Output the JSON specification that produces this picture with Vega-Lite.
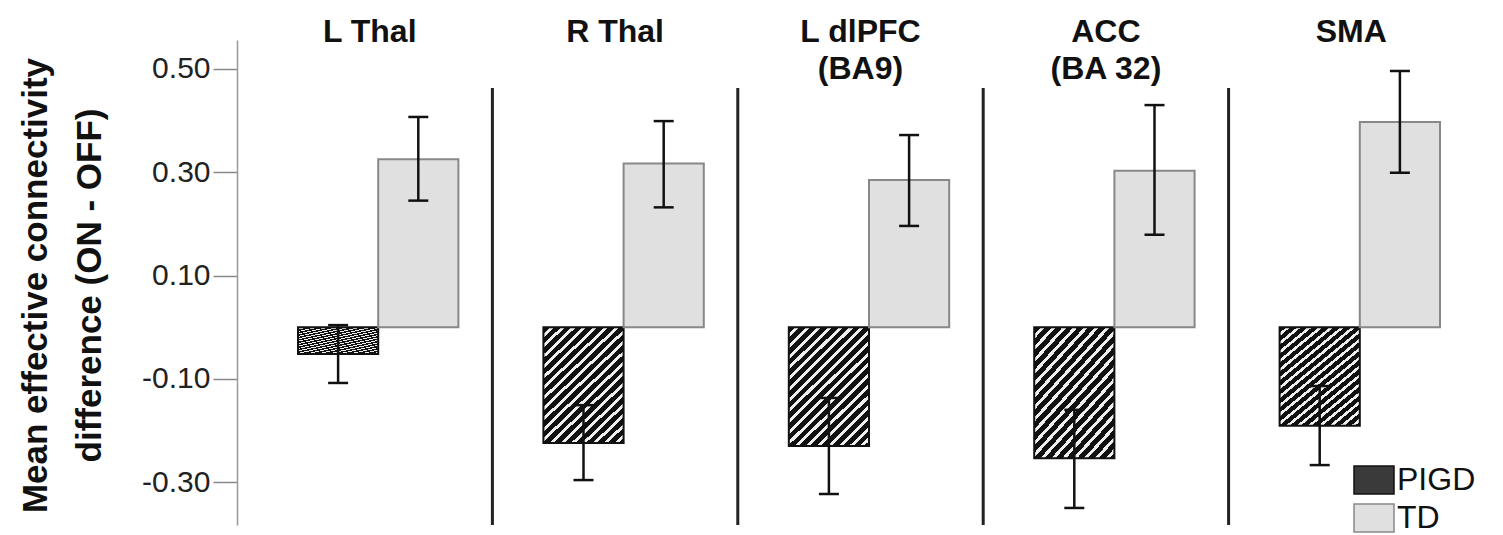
{
  "$schema": "https://vega.github.io/schema/vega-lite/v6.json",
  "autosize": "none",
  "padding": {"left": 237, "top": 40, "right": 55, "bottom": 10},
  "width": 1211,
  "height": 485,
  "background": "white",
  "config": {"view": {"stroke": null}},
  "data": {"values": [
    {"region": "L Thal", "group": "PIGD", "mean": -0.052, "lo": -0.108, "hi": 0.004},
    {"region": "L Thal", "group": "TD", "mean": 0.325, "lo": 0.245, "hi": 0.407},
    {"region": "R Thal", "group": "PIGD", "mean": -0.224, "lo": -0.296, "hi": -0.151},
    {"region": "R Thal", "group": "TD", "mean": 0.317, "lo": 0.232, "hi": 0.399},
    {"region": "L dlPFC (BA9)", "group": "PIGD", "mean": -0.230, "lo": -0.323, "hi": -0.137},
    {"region": "L dlPFC (BA9)", "group": "TD", "mean": 0.285, "lo": 0.196, "hi": 0.372},
    {"region": "ACC (BA 32)", "group": "PIGD", "mean": -0.254, "lo": -0.350, "hi": -0.160},
    {"region": "ACC (BA 32)", "group": "TD", "mean": 0.303, "lo": 0.179, "hi": 0.430},
    {"region": "SMA", "group": "PIGD", "mean": -0.191, "lo": -0.267, "hi": -0.114},
    {"region": "SMA", "group": "TD", "mean": 0.397, "lo": 0.299, "hi": 0.496}
  ]},
  "encoding": {
    "x": {
      "field": "region", "type": "nominal",
      "scale": {"domain": ["L Thal", "R Thal", "L dlPFC (BA9)", "ACC (BA 32)", "SMA"], "range": [10, 1237], "paddingInner": 0, "paddingOuter": 0},
      "axis": {
        "orient": "top", "title": null, "domain": false, "ticks": false, "tickSize": 0,
        "labelAngle": 0, "labelBaseline": "top", "labelPadding": 24,
        "labelFont": "Liberation Sans", "labelFontWeight": "bold", "labelFontSize": 32, "labelColor": "#111",
        "labelLineHeight": 37,
        "labelExpr": "indexof(datum.value, '(') > 0 ? [substring(datum.value, 0, indexof(datum.value, '(') - 1), substring(datum.value, indexof(datum.value, '('))] : datum.value"
      }
    }
  },
  "layer": [
    {
      "mark": {"type": "rule", "color": "#999999", "strokeWidth": 1.5},
      "encoding": {"y": {"datum": 0, "type": "quantitative", "scale": {"domain": [-0.383, 0.556], "nice": false, "zero": false}}}
    },
    {
      "transform": [{"filter": "datum.group === 'PIGD' && datum.region !== 'L Thal'"}],
      "mark": {"type": "rule", "color": "#222222", "strokeWidth": 3},
      "encoding": {
        "x": {"field": "region", "type": "nominal", "bandPosition": 0},
        "y": {"datum": 0.463, "type": "quantitative"},
        "y2": {"datum": -0.383}
      }
    },
    {
      "mark": {"type": "bar", "strokeWidth": 2},
      "encoding": {
        "xOffset": {"field": "group", "type": "nominal", "scale": {"domain": ["PIGD", "TD"], "paddingInner": 0, "paddingOuter": 0.53, "align": 0.6}},
        "y": {
          "field": "mean", "type": "quantitative",
          "scale": {"domain": [-0.383, 0.556], "nice": false, "zero": false},
          "axis": {
            "title": ["Mean effective connectivity", "difference (ON - OFF)"],
            "titleFont": "Liberation Sans", "titleFontWeight": "bold", "titleFontSize": 35,
            "titleColor": "#111", "titleLineHeight": 54, "titleX": -184, "titleY": 245, "titleBaseline": "bottom", "titleAngle": -90,
            "values": [-0.3, -0.1, 0.1, 0.3, 0.5], "format": ".2f",
            "labelExpr": "replace(datum.label, '\u2212', '-')",
            "labelFont": "Liberation Sans", "labelFontSize": 30, "labelColor": "#222", "labelPadding": 3,
            "tickSize": 24, "tickColor": "#888", "tickWidth": 1.5,
            "domainColor": "#999", "domainWidth": 1.5, "grid": false
          }
        },
        "fill": {
          "field": "group", "type": "nominal",
          "scale": {"domain": ["PIGD", "TD"], "range": ["#3a3a3a", "#e0e0e0"]},
          "condition": {"test": "datum.group === 'PIGD'", "value": {"gradient": "linear", "x1": 0, "y1": 0, "x2": 1, "y2": 1.5, "stops": [
            {"offset": 0, "color": "#111"}, {"offset": 0.02583, "color": "#111"}, {"offset": 0.02583, "color": "#eee"}, {"offset": 0.04167, "color": "#eee"},
            {"offset": 0.04167, "color": "#111"}, {"offset": 0.0675, "color": "#111"}, {"offset": 0.0675, "color": "#eee"}, {"offset": 0.08333, "color": "#eee"},
            {"offset": 0.08333, "color": "#111"}, {"offset": 0.10917, "color": "#111"}, {"offset": 0.10917, "color": "#eee"}, {"offset": 0.125, "color": "#eee"},
            {"offset": 0.125, "color": "#111"}, {"offset": 0.15083, "color": "#111"}, {"offset": 0.15083, "color": "#eee"}, {"offset": 0.16667, "color": "#eee"},
            {"offset": 0.16667, "color": "#111"}, {"offset": 0.1925, "color": "#111"}, {"offset": 0.1925, "color": "#eee"}, {"offset": 0.20833, "color": "#eee"},
            {"offset": 0.20833, "color": "#111"}, {"offset": 0.23417, "color": "#111"}, {"offset": 0.23417, "color": "#eee"}, {"offset": 0.25, "color": "#eee"},
            {"offset": 0.25, "color": "#111"}, {"offset": 0.27583, "color": "#111"}, {"offset": 0.27583, "color": "#eee"}, {"offset": 0.29167, "color": "#eee"},
            {"offset": 0.29167, "color": "#111"}, {"offset": 0.3175, "color": "#111"}, {"offset": 0.3175, "color": "#eee"}, {"offset": 0.33333, "color": "#eee"},
            {"offset": 0.33333, "color": "#111"}, {"offset": 0.35917, "color": "#111"}, {"offset": 0.35917, "color": "#eee"}, {"offset": 0.375, "color": "#eee"},
            {"offset": 0.375, "color": "#111"}, {"offset": 0.40083, "color": "#111"}, {"offset": 0.40083, "color": "#eee"}, {"offset": 0.41667, "color": "#eee"},
            {"offset": 0.41667, "color": "#111"}, {"offset": 0.4425, "color": "#111"}, {"offset": 0.4425, "color": "#eee"}, {"offset": 0.45833, "color": "#eee"},
            {"offset": 0.45833, "color": "#111"}, {"offset": 0.48417, "color": "#111"}, {"offset": 0.48417, "color": "#eee"}, {"offset": 0.5, "color": "#eee"},
            {"offset": 0.5, "color": "#111"}, {"offset": 0.52583, "color": "#111"}, {"offset": 0.52583, "color": "#eee"}, {"offset": 0.54167, "color": "#eee"},
            {"offset": 0.54167, "color": "#111"}, {"offset": 0.5675, "color": "#111"}, {"offset": 0.5675, "color": "#eee"}, {"offset": 0.58333, "color": "#eee"},
            {"offset": 0.58333, "color": "#111"}, {"offset": 0.60917, "color": "#111"}, {"offset": 0.60917, "color": "#eee"}, {"offset": 0.625, "color": "#eee"},
            {"offset": 0.625, "color": "#111"}, {"offset": 0.65083, "color": "#111"}, {"offset": 0.65083, "color": "#eee"}, {"offset": 0.66667, "color": "#eee"},
            {"offset": 0.66667, "color": "#111"}, {"offset": 0.6925, "color": "#111"}, {"offset": 0.6925, "color": "#eee"}, {"offset": 0.70833, "color": "#eee"},
            {"offset": 0.70833, "color": "#111"}, {"offset": 0.73417, "color": "#111"}, {"offset": 0.73417, "color": "#eee"}, {"offset": 0.75, "color": "#eee"},
            {"offset": 0.75, "color": "#111"}, {"offset": 0.77583, "color": "#111"}, {"offset": 0.77583, "color": "#eee"}, {"offset": 0.79167, "color": "#eee"},
            {"offset": 0.79167, "color": "#111"}, {"offset": 0.8175, "color": "#111"}, {"offset": 0.8175, "color": "#eee"}, {"offset": 0.83333, "color": "#eee"},
            {"offset": 1, "color": "#eee"}
          ]}},
          "legend": {
            "orient": "none", "legendX": 1116, "legendY": 419, "title": null,
            "symbolType": "M-1,-0.7L1,-0.7L1,0.7L-1,0.7Z", "symbolSize": 1600, "symbolOpacity": 1, "symbolStrokeWidth": 1.5,
            "rowPadding": 0, "labelOffset": 2,
            "labelFont": "Liberation Sans", "labelFontSize": 32, "labelColor": "#111"
          }
        },
        "stroke": {
          "field": "group", "type": "nominal",
          "scale": {"domain": ["PIGD", "TD"], "range": ["#111111", "#888888"]}
        }
      }
    },
    {
      "mark": {"type": "rule", "color": "#111", "strokeWidth": 2.5},
      "encoding": {
        "xOffset": {"field": "group", "type": "nominal"},
        "y": {"field": "lo", "type": "quantitative"},
        "y2": {"field": "hi"}
      }
    },
    {
      "mark": {"type": "tick", "color": "#111", "size": 20, "thickness": 2.5, "opacity": 1},
      "encoding": {
        "xOffset": {"field": "group", "type": "nominal"},
        "y": {"field": "lo", "type": "quantitative"}
      }
    },
    {
      "mark": {"type": "tick", "color": "#111", "size": 20, "thickness": 2.5, "opacity": 1},
      "encoding": {
        "xOffset": {"field": "group", "type": "nominal"},
        "y": {"field": "hi", "type": "quantitative"}
      }
    }
  ]
}
